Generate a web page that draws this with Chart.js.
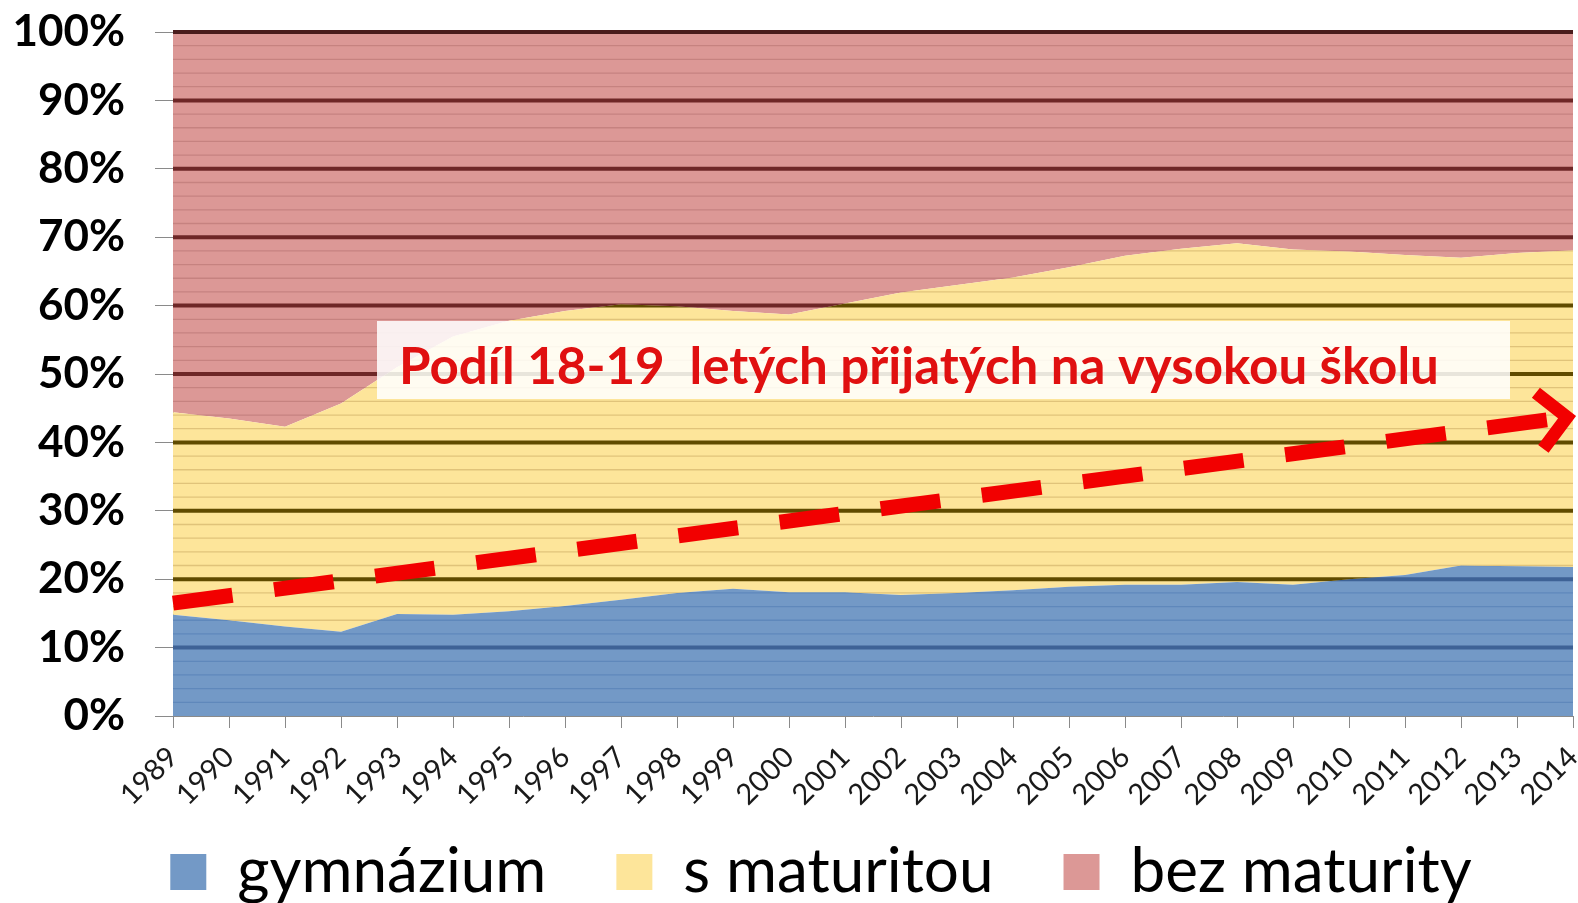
<!DOCTYPE html>
<html><head><meta charset="utf-8">
<script src="https://cdn.jsdelivr.net/npm/chart.js@4.4.1/dist/chart.umd.min.js"></script>
<style>html,body{margin:0;padding:0;background:#fff;}#wrap{width:1578px;height:903px;}</style>
</head><body><div id="wrap"><canvas id="c" width="1578" height="903"></canvas></div>
<script>
// ---- data ----
const years = ['1989','1990','1991','1992','1993','1994','1995','1996','1997','1998','1999','2000','2001','2002','2003','2004','2005','2006','2007','2008','2009','2010','2011','2012','2013','2014'];
const gymnazium   = [14.8,14.0,13.1,12.3,14.9,14.8,15.3,16.1,17.0,18.0,18.6,18.1,18.1,17.7,18.0,18.4,18.9,19.2,19.2,19.6,19.2,20.0,20.6,22.0,21.9,21.8];
const sMaturitou  = [29.6,29.5,29.2,33.4,36.1,40.7,42.5,43.1,43.2,41.9,40.6,40.6,42.2,44.2,45.0,45.7,46.7,48.1,49.1,49.5,49.0,47.9,46.8,45.0,45.8,46.3];
const bezMaturity = [55.6,56.5,57.7,54.3,49.0,44.5,42.2,40.8,39.8,40.1,40.8,41.3,39.7,38.1,37.0,35.9,34.4,32.7,31.7,30.9,31.8,32.1,32.6,33.0,32.3,31.9];
const seriesNames = ['gymnázium','s maturitou','bez maturity'];
const yTickValues = [0,10,20,30,40,50,60,70,80,90,100];
const trendStart = ['1989', 16.5];
const trendEnd   = ['2014', 43.8];
const noteText = 'Podíl 18-19  letých přijatých na vysokou školu';

// ---- styles ----
const fills = ['#7399C6','#FDE59A','#DC9896'];
const thinLine = ['#5F88BB','#E0C37A','#C68280'];
const thickLine = ['#3E6296','#604B00','#6E2727'];

const regionLines = {
  id:'regionLines',
  afterDatasetsDraw(chart){
    const ctx = chart.ctx, ys = chart.scales.y, a = chart.chartArea;
    const metas = [0,1,2].map(i=>chart.getDatasetMeta(i));
    const base = ys.getPixelForValue(0);
    for (let i=0;i<3;i++){
      const top = metas[i].data.map(p=>[p.x,p.y]);
      const bot = i===0 ? metas[0].data.map(p=>[p.x,base]) : metas[i-1].data.map(p=>[p.x,p.y]);
      ctx.save();
      ctx.beginPath();
      top.forEach((p,k)=>k?ctx.lineTo(p[0],p[1]):ctx.moveTo(p[0],p[1]));
      for(let k=bot.length-1;k>=0;k--) ctx.lineTo(bot[k][0],bot[k][1]);
      ctx.closePath();
      ctx.clip();
      ctx.lineWidth = 1.3; ctx.strokeStyle = thinLine[i];
      for (let v=2; v<100; v+=2){
        if (v%10===0) continue;
        const y = ys.getPixelForValue(v);
        ctx.beginPath(); ctx.moveTo(a.left,y); ctx.lineTo(a.right,y); ctx.stroke();
      }
      ctx.lineWidth = 4; ctx.strokeStyle = thickLine[i];
      yTickValues.forEach(v=>{
        if (v===0 || v===100) return;
        const y = ys.getPixelForValue(v);
        ctx.beginPath(); ctx.moveTo(a.left,y); ctx.lineTo(a.right,y); ctx.stroke();
      });
      ctx.restore();
    }
    const yt = ys.getPixelForValue(100);
    ctx.save(); ctx.lineWidth = 4; ctx.strokeStyle = '#4A1C1C';
    ctx.beginPath(); ctx.moveTo(a.left,yt); ctx.lineTo(a.right,yt); ctx.stroke(); ctx.restore();
  }
};

const overlay = {
  id:'overlay',
  afterLayout(chart){
    // placement of the legend row
    if (chart.legend) {
      chart.legend.top = 841 - chart.options.plugins.legend.labels.padding;
      chart.legend.left = 69;
    }
  },
  afterDraw(chart){
    const ctx = chart.ctx, xs = chart.scales.x, ys = chart.scales.y;
    ctx.save();
    ctx.fillStyle = 'rgba(255,255,255,0.86)';
    ctx.fillRect(377, 321, 1133, 78);
    let fs = 46;
    ctx.font = 'bold '+fs+'px Lato';
    const w = ctx.measureText(noteText).width;
    fs = fs * 1040 / w;
    ctx.font = 'bold '+fs.toFixed(2)+'px Lato';
    ctx.fillStyle = '#E01010';
    ctx.textBaseline = 'alphabetic';
    ctx.fillText(noteText, 399, 384);
    ctx.restore();
    const x0 = xs.getPixelForValue(years.indexOf(trendStart[0])), y0 = ys.getPixelForValue(trendStart[1]);
    const x1 = xs.getPixelForValue(years.indexOf(trendEnd[0])), y1 = ys.getPixelForValue(trendEnd[1]);
    const ang = Math.atan2(y1-y0, x1-x0);
    ctx.save();
    ctx.strokeStyle = '#F20000'; ctx.lineWidth = 15; ctx.lineCap = 'butt';
    ctx.setLineDash([60,42]);
    ctx.beginPath(); ctx.moveTo(x0,y0); ctx.lineTo(x1-10*Math.cos(ang), y1-10*Math.sin(ang)); ctx.stroke();
    ctx.setLineDash([]);
    ctx.lineJoin = 'miter'; ctx.lineWidth = 13;
    const L = 44, spread = 0.7;
    ctx.beginPath();
    ctx.moveTo(x1 - L*Math.cos(ang-spread), y1 - L*Math.sin(ang-spread));
    ctx.lineTo(x1-6*Math.cos(ang), y1-6*Math.sin(ang));
    ctx.lineTo(x1 - L*Math.cos(ang+spread), y1 - L*Math.sin(ang+spread));
    ctx.stroke();
    ctx.restore();
  }
};

const mk = (i, data, fill) => ({label: seriesNames[i], data, backgroundColor: fills[i], borderColor: fills[i], borderWidth: 0, pointRadius: 0, tension: 0, fill});

new Chart(document.getElementById('c'), {
  type: 'line',
  data: { labels: years, datasets: [mk(0,gymnazium,'origin'), mk(1,sMaturitou,'-1'), mk(2,bezMaturity,'-1')] },
  options: {
    responsive: false, animation: false, devicePixelRatio: 1,
    layout: { padding: { top: 32, right: 5, bottom: 0, left: 0 } },
    plugins: {
      tooltip: { enabled: false },
      legend: {
        position: 'bottom',
        maxHeight: 76,
        labels: { boxWidth: 36, boxHeight: 36, padding: 70, color: '#000', font: { family: 'Lato', size: 62 },
          generateLabels(chart){
            return chart.data.datasets.map((d,i)=>({text: d.label, fillStyle: fills[i], strokeStyle: fills[i], lineWidth: 0, datasetIndex: i}));
          }
        }
      }
    },
    scales: {
      x: {
        grid: { drawOnChartArea: false, drawTicks: true, tickLength: 12, color: '#8a8a8a' },
        border: { color: '#8a8a8a' },
        ticks: { autoSkip: false, maxRotation: 45, minRotation: 45, padding: 12, color: '#1a1a1a', font: { family: 'Lato', size: 29 } },
        afterFit(s){ s.height = 827 - 716; s.paddingLeft = 0; s.paddingRight = 0; }
      },
      y: {
        stacked: true, min: 0, max: 100,
        grid: { drawOnChartArea: false, drawTicks: true, tickLength: 18, color: '#8a8a8a' },
        border: { color: '#8a8a8a' },
        ticks: { stepSize: 10, padding: 30, color: '#000', font: { family: 'Lato', size: 44, weight: 'bold' }, callback: v => v + '%' },
        afterFit(s){ s.width = 173; s.paddingTop = 0; s.paddingBottom = 0; }
      }
    }
  },
  plugins: [regionLines, overlay]
});
</script></body></html>
